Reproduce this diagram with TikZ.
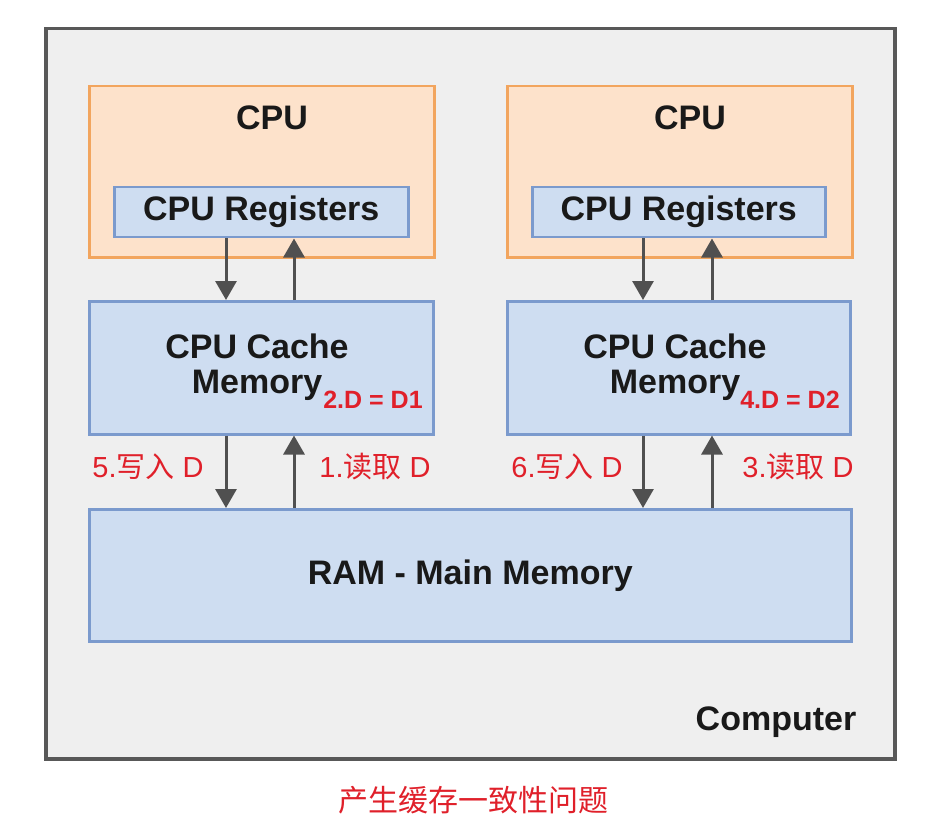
\documentclass[tikz,border=0pt]{standalone}
\usepackage{fontspec}
\setmainfont{Liberation Sans}
\newfontfamily\cjk{Noto Sans CJK SC}
\usetikzlibrary{arrows.meta}
\definecolor{bgc}{HTML}{EFEFEF}
\definecolor{bdc}{HTML}{585858}
\definecolor{orf}{HTML}{FDE2CB}
\definecolor{orb}{HTML}{F2A55E}
\definecolor{blf}{HTML}{CEDDF1}
\definecolor{blb}{HTML}{7B9ACD}
\definecolor{redc}{HTML}{E0202A}
\definecolor{arc}{HTML}{505050}
\begin{document}
\begin{tikzpicture}[x=1pt,y=-1pt,
  boxbase/.style={anchor=north west, inner sep=0pt, line width=2.5pt},
  cpubox/.style={boxbase, fill=orf, draw=orb},
  bluebox/.style={boxbase, fill=blf, draw=blb},
  lbl/.style={font=\fontsize{34}{40}\selectfont\bfseries, text=black!90, inner sep=0pt},
  redl/.style={font=\fontsize{29}{34}\selectfont, text=redc, inner sep=0pt},
  reds/.style={font=\fontsize{25}{30}\selectfont\bfseries, text=redc, inner sep=0pt},
  arr/.style={draw=arc, line width=3pt, -{Triangle[width=21pt,length=19pt]}}
]
\useasboundingbox (0,0) rectangle (946,832);
\fill[white] (0,0) rectangle (946,832);
% computer
\node[boxbase, fill=bgc, draw=bdc, line width=3.5pt, minimum width=849pt, minimum height=730pt] (comp) at (44,27) {};
% left
\node[cpubox, minimum width=345pt, minimum height=171pt] (cpu1) at (88,85) {};
\node[lbl] (cpu1t) at (272,118) {CPU};
\node[bluebox, minimum width=294pt, minimum height=50pt] (reg1) at (113,186) {};
\node[lbl] (reg1t) at (reg1.center) {CPU Registers};
\node[bluebox, minimum width=344pt, minimum height=133pt] (cache1) at (88,300) {};
\node[lbl] (cache1a) at (257,346) {CPU Cache};
\node[lbl] (cache1b) at (257,385) {Memory};
\node[reds] (d1) at (373,400) {2.D = D1};
% right
\node[cpubox, minimum width=345pt, minimum height=171pt] (cpu2) at (506,85) {};
\node[lbl] (cpu2t) at (690,118) {CPU};
\node[bluebox, minimum width=293pt, minimum height=50pt] (reg2) at (531,186) {};
\node[lbl] (reg2t) at (reg2.center) {CPU Registers};
\node[bluebox, minimum width=343pt, minimum height=133pt] (cache2) at (506,300) {};
\node[lbl] (cache2a) at (675,346) {CPU Cache};
\node[lbl] (cache2b) at (675,385) {Memory};
\node[reds] (d2) at (790,400) {4.D = D2};
% RAM
\node[bluebox, minimum width=762pt, minimum height=132pt] (ram) at (88,508) {};
\node[lbl] (ramt) at (ram.center) {RAM - Main Memory};
\node[lbl] (compt) at (776,722) {Computer};
% arrow x positions
\coordinate (xa) at (226,0);
\coordinate (xb) at (294,0);
\coordinate (xc) at (643,0);
\coordinate (xd) at (712,0);
\draw[arr] (reg1.south -| xa) -- (cache1.north -| xa);
\draw[arr] (cache1.north -| xb) -- (reg1.south -| xb);
\draw[arr] (cache1.south -| xa) -- (ram.north -| xa);
\draw[arr] (ram.north -| xb) -- (cache1.south -| xb);
\draw[arr] (reg2.south -| xc) -- (cache2.north -| xc);
\draw[arr] (cache2.north -| xd) -- (reg2.south -| xd);
\draw[arr] (cache2.south -| xc) -- (ram.north -| xc);
\draw[arr] (ram.north -| xd) -- (cache2.south -| xd);
% red labels
\node[redl] (l5) at (148,467) {5.{\cjk 写入} D};
\node[redl] (l1) at (375,467) {1.{\cjk 读取} D};
\node[redl] (l6) at (567,467) {6.{\cjk 写入} D};
\node[redl] (l3) at (798,467) {3.{\cjk 读取} D};
\node[font=\cjk\fontsize{30}{36}\selectfont, text=redc, inner sep=0pt] (cap) at (473,800) {产生缓存一致性问题};
\end{tikzpicture}
\end{document}
